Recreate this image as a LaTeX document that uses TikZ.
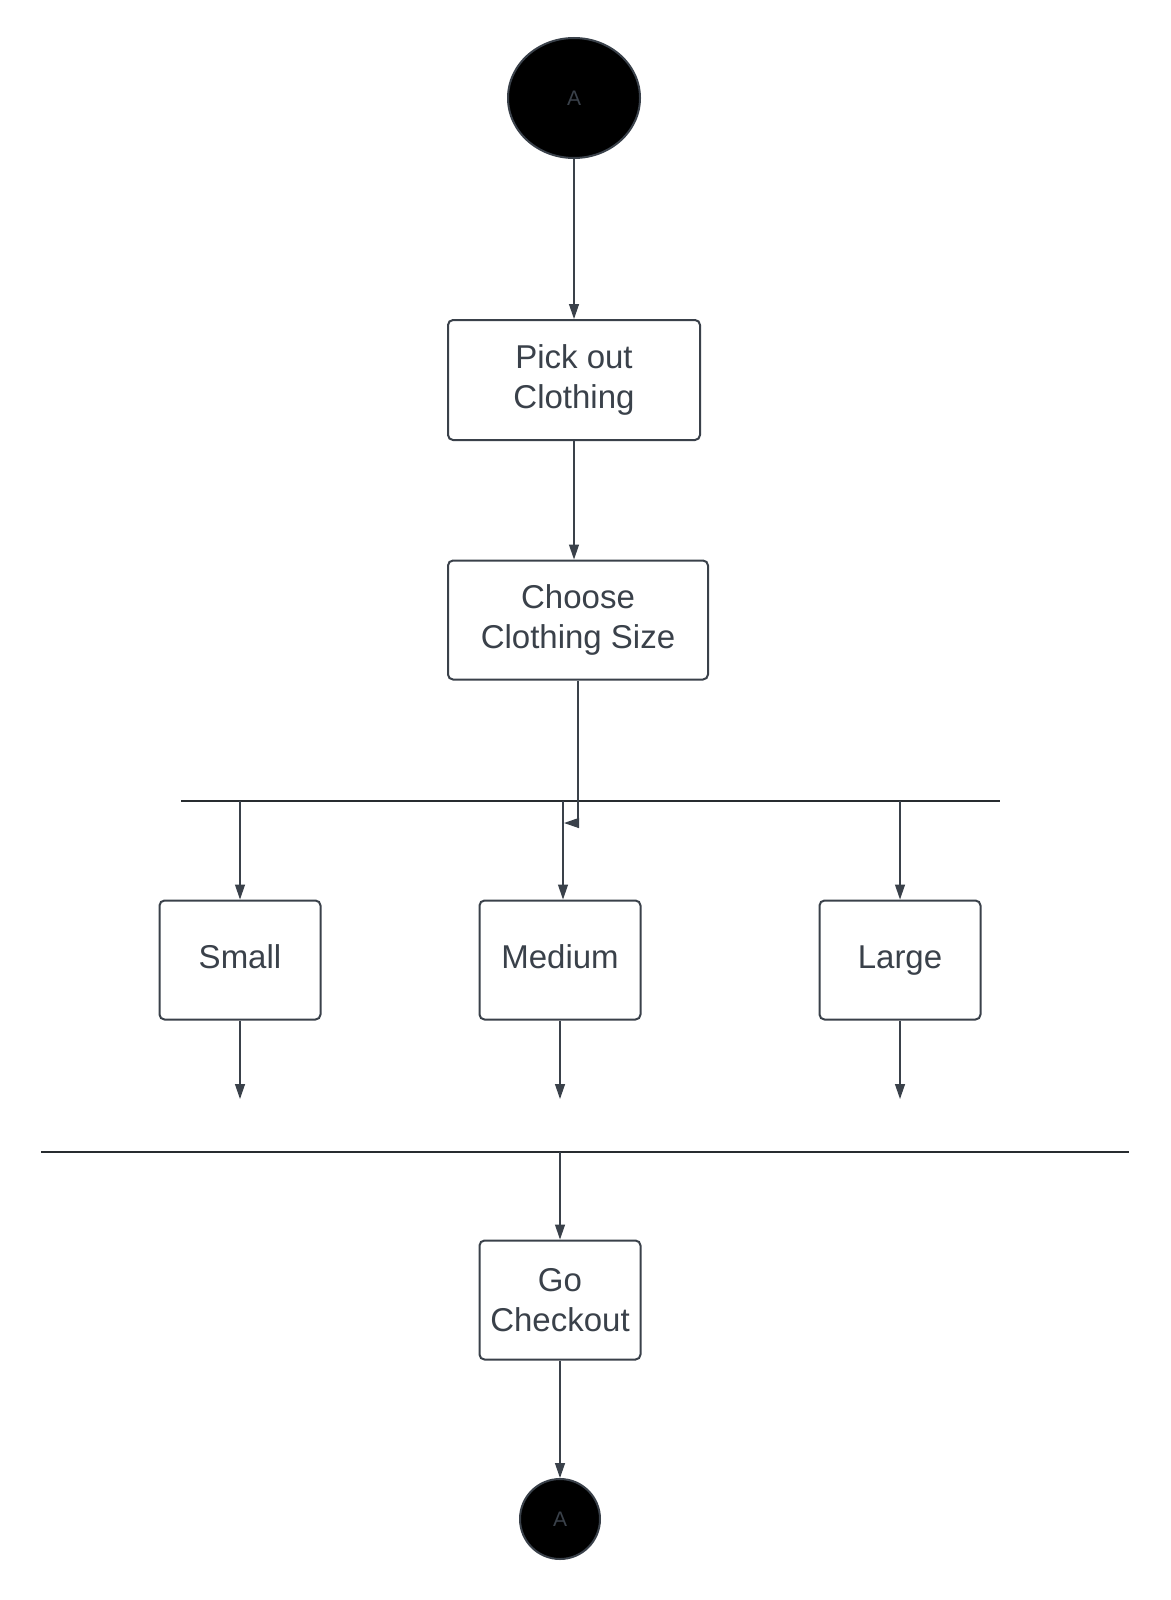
\documentclass[tikz,border=0pt]{standalone}
\usepackage{fontspec}
\setmainfont{Liberation Sans}
\usetikzlibrary{arrows.meta,shapes.geometric,calc}
\definecolor{ink}{HTML}{3A414A}
\definecolor{barc}{HTML}{282C30}
\tikzset{
  actbox/.style={draw=ink, line width=2pt, rounded corners=5pt, fill=white, text=ink,
     align=center, font=\fontsize{33}{40}\selectfont, inner sep=0pt},
  endpt/.style={ellipse, draw=ink, line width=2pt, fill=black, text=ink, inner sep=0pt,
     font=\fontsize{21}{25}\selectfont},
  barnode/.style={draw=none, fill=barc, inner sep=0pt, minimum height=2.2pt},
  conn/.style={draw=ink, line width=1.3pt, -{Triangle[length=15pt,width=10pt]}},
}
\begin{document}
\begin{tikzpicture}[x=1pt,y=-1pt]
\useasboundingbox (0,0) rectangle (1170,1600);
\node[endpt, minimum width=132pt, minimum height=120pt] (start) at (574,98) {A};
\node[actbox, minimum width=252pt, minimum height=120pt] (pick) at (574,380) {Pick out\\Clothing};
\node[actbox, minimum width=260pt, minimum height=119pt] (choose) at (578,620) {Choose\\Clothing Size};
\node[barnode, minimum width=819pt] (bar1) at (590.5,801) {};
\node[actbox, minimum width=161pt, minimum height=119pt] (small) at (240,960) {\strut Small};
\node[actbox, minimum width=161pt, minimum height=119pt] (medium) at (560,960) {\strut Medium};
\node[actbox, minimum width=161pt, minimum height=119pt] (large) at (900,960) {\strut Large};
\node[barnode, minimum width=1088pt] (bar2) at (585,1152) {};
\node[actbox, minimum width=161pt, minimum height=119pt] (checkout) at (560,1300) {Go\\Checkout};
\node[endpt, minimum width=80pt, minimum height=80pt] (stop) at (560,1519) {A};

\coordinate (mtop) at (563,801);
\coordinate (mjoin) at (564,823);
\coordinate (sout) at (240,1099);
\coordinate (mout) at (560,1099);
\coordinate (lout) at (900,1099);
\coordinate (ctop) at (560,1152);

\draw[conn] (start) -- (pick);
\draw[conn] (pick) -- (choose.north -| pick.south);
\draw[conn] (choose.south) |- (mjoin);
\draw[conn] (small.north |- bar1) -- (small.north);
\draw[conn] (mtop) -- (mtop |- medium.north);
\draw[conn] (large.north |- bar1) -- (large.north);
\draw[conn] (small.south) -- (sout);
\draw[conn] (medium.south) -- (mout);
\draw[conn] (large.south) -- (lout);
\draw[conn] (ctop) -- (checkout.north);
\draw[conn] (checkout) -- (stop);
\end{tikzpicture}
\end{document}
